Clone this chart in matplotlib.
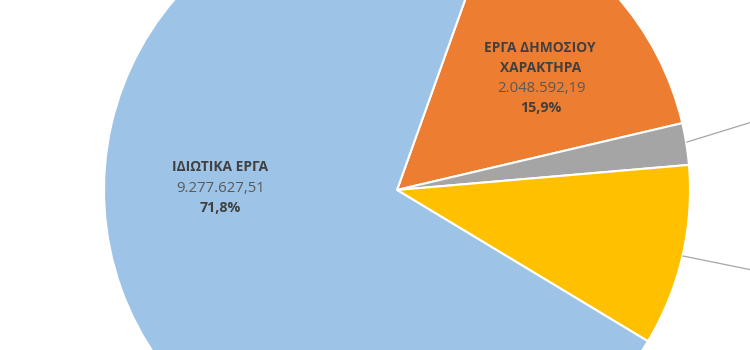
import matplotlib
matplotlib.use("Agg")
import matplotlib.pyplot as plt

categories = ["ΕΡΓΑ ΔΗΜΟΣΙΟΥ\nΧΑΡΑΚΤΗΡΑ", "ΑΛΛΑ", "ΛΟΙΠΑ", "ΙΔΙΩΤΙΚΑ ΕΡΓΑ"]
values = [2048592.19, 297000.00, 1291500.00, 9277627.51]
value_labels = ["2.048.592,19", "", "", "9.277.627,51"]
pct_labels = ["15,9%", "", "", "71,8%"]
colors = ["#ED7D31", "#A5A5A5", "#FFC000", "#9DC3E6"]

plt.rcParams['font.family'] = ['Open Sans', 'DejaVu Sans']

fig = plt.figure(figsize=(7.5, 3.5), dpi=100)
ax = fig.add_axes([0, 0, 1, 1])
cx, cy, r = 397, 160, 293
wedges, _ = ax.pie(values, colors=colors, startangle=70.3, counterclock=False,
                   center=(cx, cy), radius=r,
                   wedgeprops=dict(edgecolor="white", linewidth=1.5))
ax.set_xlim(0, 750)
ax.set_ylim(0, 350)
ax.set_aspect('equal')
ax.axis('off')

dark = "#404040"
mid = "#595959"
fsb = 9.9
fsr = 10.7
fsp = 10.3
# Private works label
ax.text(220, 350 - 167, categories[3], ha='center', va='center', fontsize=fsb, fontweight='bold', color=dark)
ax.text(221, 350 - 188, value_labels[3], ha='center', va='center', fontsize=fsr, color=mid)
ax.text(220, 350 - 208, pct_labels[3], ha='center', va='center', fontsize=fsp, fontweight='bold', color=dark)
# Public works label
l1, l2 = categories[0].split("\n")
ax.text(540, 350 - 48, l1, ha='center', va='center', fontsize=fsb, fontweight='bold', color=dark)
ax.text(541, 350 - 68, l2, ha='center', va='center', fontsize=fsb, fontweight='bold', color=dark)
ax.text(542, 350 - 88, value_labels[0], ha='center', va='center', fontsize=fsr, color=mid)
ax.text(541, 350 - 108, pct_labels[0], ha='center', va='center', fontsize=fsp, fontweight='bold', color=dark)

# leader lines toward off-canvas labels
ax.plot([687, 752], [350 - 142, 350 - 122], color="#A6A6A6", lw=0.9)
ax.plot([683, 752], [350 - 256, 350 - 270], color="#A6A6A6", lw=0.9)

fig.savefig("out.png", dpi=100)
